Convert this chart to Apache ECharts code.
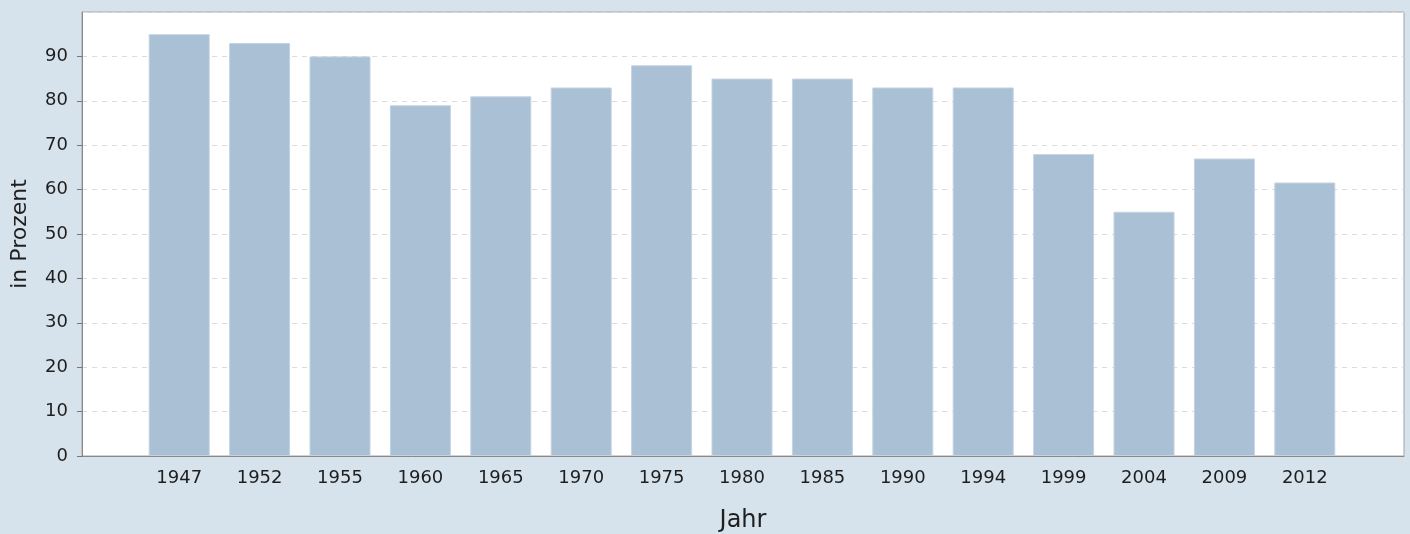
<!DOCTYPE html>
<html>
<head>
<meta charset="utf-8">
<script src="https://cdn.jsdelivr.net/npm/echarts@6/dist/echarts.min.js"></script>
<style>
html,body{margin:0;padding:0;background:#d7e3ec;}
#c{width:1410px;height:534px;}
</style>
</head>
<body>
<div id="c"></div>
<script>
const categories = ['1947','1952','1955','1960','1965','1970','1975','1980','1985','1990','1994','1999','2004','2009','2012'];
const values = [95, 93, 90, 79, 81, 83, 88, 85, 85, 83, 83, 68, 55, 67, 61.6];
const yMin = 0, yMax = 100, yStep = 10, yLabelMax = 90;

const font = 'DejaVu Sans';
const plotTop = 12, plotBottom = 78, plotH = 534 - plotTop - plotBottom;
const tickGridTop = plotTop + plotH * (yMax - yLabelMax) / (yMax - yMin);
const chart = echarts.init(document.getElementById('c'), null, {renderer: 'canvas'});
chart.setOption({
  animation: false,
  backgroundColor: '#d7e3ec',
  grid: [
    {left: 82, right: 6, top: plotTop, bottom: plotBottom, show: true, backgroundColor: '#ffffff', borderColor: '#a4a4a4', borderWidth: 1, containLabel: false, outerBoundsMode: 'none'},
    {left: 139, right: 65, top: plotTop, bottom: plotBottom, containLabel: false, outerBoundsMode: 'none'},
    {left: 82, right: 6, top: tickGridTop, bottom: plotBottom, containLabel: false, outerBoundsMode: 'none'}
  ],
  xAxis: [
    {
      gridIndex: 0, type: 'value', min: 0, max: 1,
      name: 'Jahr', nameLocation: 'middle', nameGap: 53, nameMoveOverlap: false,
      nameTextStyle: {fontFamily: font, fontSize: 24, color: '#1e1e1e'},
      axisLine: {show: true, lineStyle: {color: '#888', width: 1}},
      axisTick: {show: false}, axisLabel: {show: false}, splitLine: {show: false}
    },
    {
      gridIndex: 1, type: 'category', data: categories,
      axisLine: {show: false}, axisTick: {show: false},
      axisLabel: {fontFamily: font, fontSize: 18, color: '#1e1e1e', margin: 13}
    },
    {
      gridIndex: 2, type: 'value', min: 0, max: 1, show: false
    }
  ],
  yAxis: [
    {
      gridIndex: 0, type: 'value', min: yMin, max: yMax, interval: yStep,
      name: 'in Prozent', nameLocation: 'middle', nameGap: 51, nameMoveOverlap: false,
      nameTextStyle: {fontFamily: font, fontSize: 22, color: '#1e1e1e'},
      axisLine: {show: true, lineStyle: {color: '#888', width: 1}},
      axisTick: {show: false}, axisLabel: {show: false},
      splitLine: {show: true, lineStyle: {color: '#dcdcdc', type: [5, 5], width: 1}}
    },
    {
      gridIndex: 1, type: 'value', min: yMin, max: yMax, show: false, splitLine: {show: false}
    },
    {
      gridIndex: 2, type: 'value', min: yMin, max: yLabelMax, interval: yStep,
      axisLine: {show: true, lineStyle: {color: '#888', width: 1}},
      axisTick: {show: true, inside: false, length: 5, lineStyle: {color: '#777', width: 1}},
      axisLabel: {fontFamily: font, fontSize: 18, color: '#1e1e1e', margin: 14},
      splitLine: {show: false}
    }
  ],
  series: [{
    type: 'bar', xAxisIndex: 1, yAxisIndex: 1,
    data: values, barWidth: 61,
    itemStyle: {color: '#aac0d5', borderColor: '#c3d3e2', borderWidth: 1}
  }]
});
</script>
</body>
</html>
